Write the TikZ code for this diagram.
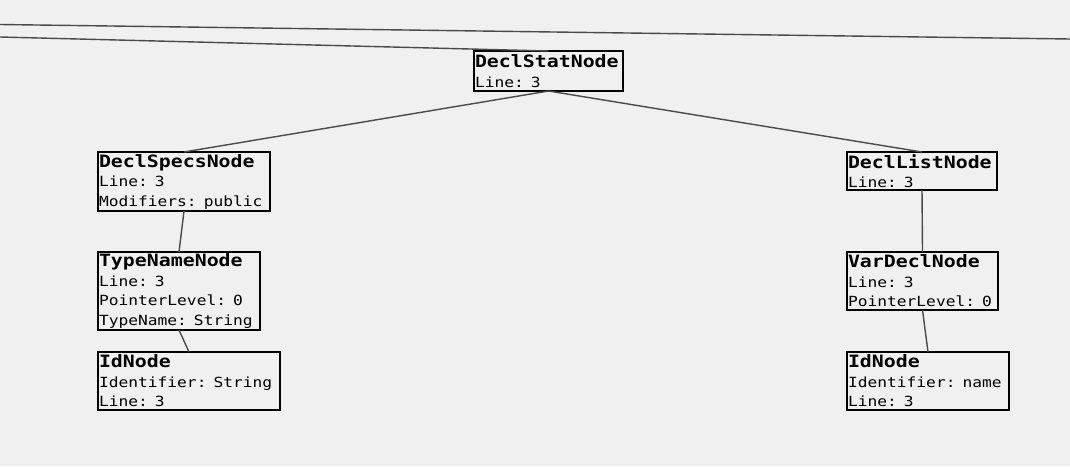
\documentclass[tikz,border=0pt]{standalone}
\usepackage{fontspec}
\newfontfamily\headfont[FakeStretch=1.17]{DejaVu Sans Mono}
\newfontfamily\bodyfont[FakeStretch=1.16]{DejaVu Sans Mono}
\definecolor{bgcol}{HTML}{F0F0F0}
\definecolor{edgecol}{HTML}{4A4A4A}
\newcommand{\asthead}[1]{{\headfont\bfseries\fontsize{17}{18}\selectfont #1}}
\tikzset{
  astbox/.style 2 args={draw=black, line width=2.6, fill=bgcol, anchor=north west,
    outer sep=0, inner xsep=1, inner ysep=0, align=left, text width=#1pt,
    minimum height=#2, font=\bodyfont\fontsize{14}{19.5}\selectfont},
  astedge/.style={draw=edgecol, line width=1.4}
}

\begin{document}
\begin{tikzpicture}[x=1pt,y=-1pt]
\path[fill=bgcol] (0,0) rectangle (1070,466);
\useasboundingbox (0,0) rectangle (1070,466);

\node[astbox={147}{40}] (declstat) at (474,51) {\asthead{DeclStatNode}\\Line: 3};
\node[astbox={170}{59}] (declspecs) at (98,152) {\asthead{DeclSpecsNode}\\Line: 3\\Modifiers: public};
\node[astbox={160}{78}] (typename) at (98,252) {\asthead{TypeNameNode}\\Line: 3\\PointerLevel: 0\\TypeName: String};
\node[astbox={180}{58}] (idleft) at (98,352) {\asthead{IdNode}\\Identifier: String\\Line: 3};
\node[astbox={148}{38}] (decllist) at (847,152) {\asthead{DeclListNode}\\Line: 3};
\node[astbox={149}{58}] (vardecl) at (847,252) {\asthead{VarDeclNode}\\Line: 3\\PointerLevel: 0};
\node[astbox={160}{58}] (idright) at (847,352) {\asthead{IdNode}\\Identifier: name\\Line: 3};

% edges leaving the visible part
\coordinate (offleftA) at (0,24.5);
\coordinate (offrightA) at (1070,39);
\coordinate (offleftB) at (0,37);

\path[astedge]
  (offleftA) edge (offrightA)
  (offleftB) edge (declstat.north)
  (declstat.south) edge (declspecs.north)
                   edge (decllist.north)
  (declspecs.south) edge (typename.north)
  (typename.south) edge (idleft.north)
  (decllist.south) edge (vardecl.north)
  (vardecl.south) edge (idright.north)
  ;
\end{tikzpicture}
\end{document}
